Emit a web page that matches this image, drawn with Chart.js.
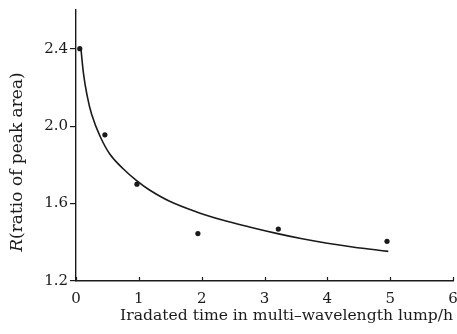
<!DOCTYPE html>
<html>
<head>
<meta charset="utf-8">
<script src="https://cdn.jsdelivr.net/npm/chart.js@4/dist/chart.umd.min.js"></script>
<style>
html,body{margin:0;padding:0;background:#fff;}
#wrap{width:457px;height:334px;}
</style>
</head>
<body>
<div id="wrap"><canvas id="c" width="457" height="334"></canvas></div>
<script>
// Measured points
const timeH = [0.06, 0.46, 0.97, 1.94, 3.22, 4.95];
const ratioR = [2.40, 1.955, 1.70, 1.445, 1.468, 1.405];
// Fitted curve
const fitTime = [0.08, 0.12, 0.17, 0.25, 0.38, 0.54, 0.75, 0.96, 1.17, 1.49, 1.92, 2.33, 2.76, 3.19, 3.60, 4.00, 4.40, 4.97];
const fitR = [2.395, 2.27, 2.17, 2.06, 1.95, 1.855, 1.78, 1.72, 1.67, 1.612, 1.557, 1.515, 1.479, 1.446, 1.418, 1.395, 1.376, 1.353];
// Tick labels
const xTicks = [0, 1, 2, 3, 4, 5, 6];
const yTicks = [1.2, 1.6, 2.0, 2.4];

const xTitle = 'Iradated time in multi\u2013wavelength lump/h';
const yTitleItalic = 'R';
const yTitleRest = '(ratio of peak area)';

const FONT = '"DejaVu Serif", "Liberation Serif", serif';
const INK = '#1a1a1a';

const extras = {
  id: 'extras',
  afterDraw(chart) {
    const ctx = chart.ctx, xs = chart.scales.x, ys = chart.scales.y;
    const y0 = ys.getPixelForValue(ys.min);
    ctx.save();
    ctx.strokeStyle = INK;
    ctx.lineWidth = 1.2;
    xTicks.forEach(v => {
      const px = Math.round(xs.getPixelForValue(v)) + 0.5;
      ctx.beginPath();
      ctx.moveTo(px, y0);
      ctx.lineTo(px, y0 - 4);
      ctx.stroke();
    });
    // y title with italic R
    ctx.fillStyle = INK;
    ctx.textBaseline = 'middle';
    ctx.translate(18, 162);
    ctx.rotate(-Math.PI / 2);
    const fs = 17;
    ctx.font = 'italic ' + fs + 'px ' + FONT;
    const w1 = ctx.measureText(yTitleItalic).width;
    ctx.font = fs + 'px ' + FONT;
    const w2 = ctx.measureText(yTitleRest).width;
    const sx = -(w1 + w2) / 2;
    ctx.font = 'italic ' + fs + 'px ' + FONT;
    ctx.fillText(yTitleItalic, sx, 0);
    ctx.font = fs + 'px ' + FONT;
    ctx.fillText(yTitleRest, sx + w1, 0);
    ctx.restore();
  }
};

new Chart(document.getElementById('c'), {
  type: 'scatter',
  data: {
    datasets: [
      {
        label: 'fit',
        data: fitTime.map((t, i) => ({x: t, y: fitR[i]})),
        showLine: true,
        borderColor: INK,
        borderWidth: 1.6,
        pointRadius: 0,
        tension: 0.4,
        fill: false
      },
      {
        label: 'measured',
        data: timeH.map((t, i) => ({x: t, y: ratioR[i]})),
        backgroundColor: INK,
        borderColor: INK,
        pointRadius: 2.6,
        borderWidth: 0
      }
    ]
  },
  options: {
    responsive: false,
    animation: false,
    layout: {padding: {left: 0, right: 4, top: 10, bottom: 0}},
    plugins: {legend: {display: false}, tooltip: {enabled: false}},
    scales: {
      x: {
        type: 'linear',
        min: 0, max: 6,
        afterBuildTicks: s => { s.ticks = xTicks.map(v => ({value: v})); },
        afterFit: s => { s.height = 53; s.paddingRight = 0; s.paddingLeft = 0; },
        border: {display: true, color: INK, width: 1.4},
        grid: {display: false, drawTicks: false},
        ticks: {color: INK, font: {family: FONT, size: 15}, padding: 9, maxRotation: 0},
        title: {display: true, text: xTitle, align: 'end', color: INK, font: {family: FONT, size: 15.6}, padding: {top: 3, bottom: 9}}
      },
      y: {
        type: 'linear',
        min: 1.2, max: 2.6,
        afterBuildTicks: s => { s.ticks = yTicks.map(v => ({value: v})); },
        afterFit: s => { s.width = 76; s.paddingTop = 0; s.paddingBottom = 0; },
        border: {display: true, color: INK, width: 1.4},
        grid: {display: true, drawOnChartArea: false, drawTicks: true, tickLength: 6, color: INK, lineWidth: 1.2},
        ticks: {color: INK, font: {family: FONT, size: 15}, padding: 2, callback: v => v.toFixed(1)}
      }
    }
  },
  plugins: [extras]
});
</script>
</body>
</html>
